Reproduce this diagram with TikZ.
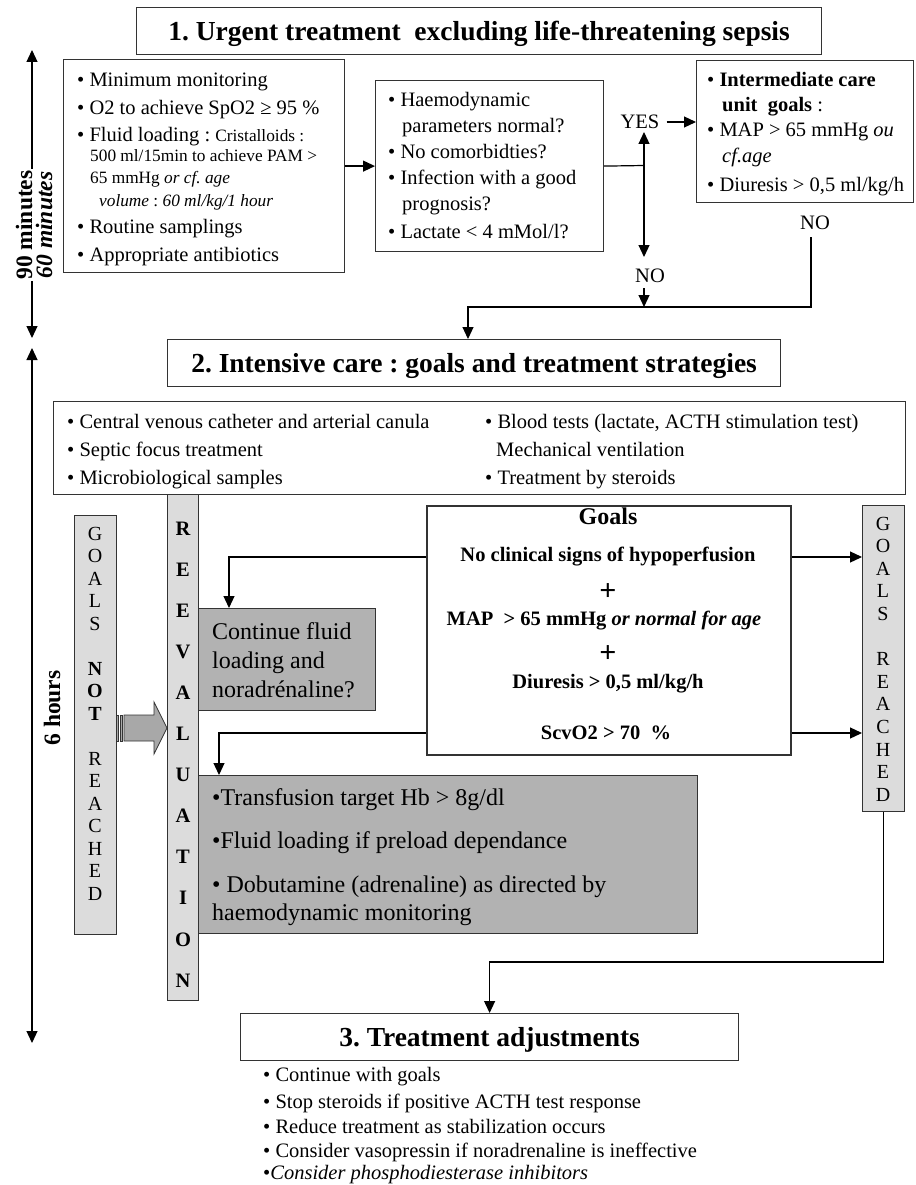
\documentclass[tikz,border=0pt]{standalone}
\usepackage{fontspec}
\setmainfont{Liberation Serif}
\usetikzlibrary{arrows.meta}
\definecolor{lgrey}{HTML}{DCDCDC}
\definecolor{mgrey}{HTML}{B2B2B2}
\definecolor{agrey}{HTML}{A8A8A8}
\definecolor{edge}{HTML}{333333}
\newcommand\fN{\fontsize{20.5}{26}\selectfont}
\newcommand\fS{\fontsize{17.3}{20}\selectfont}
\newcommand\fB{\fontsize{24}{29}\selectfont}
\newcommand\fT{\fontsize{27.5}{32}\selectfont\bfseries}
\frenchspacing
\begin{document}
\frenchspacing
\begin{tikzpicture}[x=1pt,y=-1pt,
  box/.style={draw=edge, line width=1.2pt, inner sep=0pt, anchor=north west},
  gbox/.style={box, fill=mgrey},
  bar/.style={box, fill=lgrey},
  title/.style={box, font=\fT, text height=18.7pt, text depth=0pt},
  txt/.style={inner sep=0pt, anchor=base west, font=\fN},
  stxt/.style={txt, font=\fS},
  btxt/.style={txt, font=\fB},
  ctr/.style={inner sep=0pt, anchor=base, font=\fN\bfseries},
  lab/.style={inner sep=0pt, font=\fN},
  arr/.style={-{Triangle[width=11pt,length=12pt]}, line width=1.2pt},
  con/.style={line width=1.2pt},
  darr/.style={{Triangle[width=11pt,length=12pt]}-{Triangle[width=11pt,length=12pt]}, line width=1.2pt},
  ]
\fill[white] (0,0) rectangle (915,1185);
\useasboundingbox (0,0) rectangle (915,1185);

% ---------- time axis ----------
\coordinate (ta) at (32,50);
\coordinate (tb) at (32,338);
\coordinate (tc) at (32,348);
\coordinate (td) at (32,1043);
\draw[darr] (ta) -- (tb);
\draw[darr] (tc) -- (td);
\node[rotate=90, fill=white, inner sep=1.5pt, font=\fontsize{23.5}{28}\selectfont\bfseries] (t90) at (24,225) {90 minutes};
\node[rotate=90, fill=white, inner sep=1.5pt, font=\fontsize{23.5}{28}\selectfont\bfseries\itshape] (t60) at (44,225) {60 minutes};
\node[rotate=90, inner sep=0pt, font=\fontsize{23.5}{28}\selectfont\bfseries] (t6h) at (52,708) {6 hours};

% ---------- part 1 ----------
\node[title, minimum width=685pt, minimum height=47pt] (t1) at (136,7) {1. Urgent treatment\ \ excluding life-threatening sepsis};

\node[box, minimum width=281pt, minimum height=213pt] (A) at (63,59) {};
\node[txt] (a1) at (77,87) {• Minimum monitoring};
\node[txt] (a2) at (77,115) {• O2 to achieve SpO2 ≥ 95 \%};
\node[txt] (a3) at (77,142) {• Fluid loading : {\fS Cristalloids :}};
\node[stxt] (a4) at (90,162) {500 ml/15min to achieve PAM >};
\node[stxt] (a5) at (90,184) {65 mmHg \textit{or cf. age}};
\node[stxt] (a6) at (99,206) {\textit{volume} : \textit{60 ml/kg/1 hour}};
\node[txt] (a7) at (77,233) {• Routine samplings};
\node[txt] (a8) at (77,261) {• Appropriate antibiotics};

\node[box, minimum width=228pt, minimum height=171pt] (B) at (375,80) {};
\node[txt] (b1) at (388,107) {• Haemodynamic};
\node[txt] (b2) at (402,133) {parameters normal?};
\node[txt] (b3) at (388,159) {• No comorbidties?};
\node[txt] (b4) at (388,185) {• Infection with a good};
\node[txt] (b5) at (402,211) {prognosis?};
\node[txt] (b6) at (388,238) {• Lactate < 4 mMol/l?};

\node[box, minimum width=217pt, minimum height=142pt] (C) at (696,60) {};
\node[txt] (c1) at (707,87) {• \textbf{Intermediate care}};
\node[txt] (c2) at (722,112) {\textbf{unit\ \ goals} :};
\node[txt] (c3) at (707,137) {• MAP > 65 mmHg \textit{ou}};
\node[txt] (c4) at (722,163) {\textit{cf.age}};
\node[txt] (c5) at (707,191) {• Diuresis > 0,5 ml/kg/h};

\draw[arr] (A.east) -- (B.west);
\coordinate (j) at (644,165.5);
\coordinate (yt) at (644,132);
\coordinate (nt) at (644,257);
\draw[con] (B.east) -- (j);
\draw[arr] (j) -- (yt);
\draw[arr] (j) -- (nt);
\node[lab] (yes) at (640,122) {YES};
\draw[arr] ([xshift=7pt]yes.east) -- (yes.east -| C.west);
\node[lab] (no1) at (650,276) {NO};
\node[lab] (no2) at (815,223) {NO};
\coordinate (n1) at (644,288);
\coordinate (n2) at (644,307);
\draw[arr] (n1) -- (n2);
\coordinate (k1) at (811,237);
\coordinate (k2) at (811,307);
\coordinate (k3) at (468,307);

% ---------- part 2 ----------
\node[title, minimum width=613pt, minimum height=47pt] (t2) at (167,339) {2. Intensive care : goals and treatment strategies};
\draw[arr] (k1) -- (k2) -- (k3) -- (k3 |- t2.north);

\node[box, minimum width=852pt, minimum height=93pt] (L) at (53,401) {};
\node[txt] (l1) at (67,428) {• Central venous catheter and arterial canula};
\node[txt] (l2) at (67,456) {• Septic focus treatment};
\node[txt] (l3) at (67,484) {• Microbiological samples};
\node[txt] (r1) at (485,428) {• Blood tests (lactate, ACTH stimulation test)};
\node[txt] (r2) at (496,456) {Mechanical ventilation};
\node[txt] (r3) at (485,484) {• Treatment by steroids};

% bars
\node[bar, minimum width=31pt, minimum height=506pt] (reev) at (167,494) {};
\foreach \l [count=\i from 0] in {R,E,E,V,A,L,U,A,T,I,O,N}
  \node[inner sep=0pt, anchor=base, font=\fontsize{20.5}{24}\selectfont\bfseries] (rv\i) at (183,535+41.1*\i) {\l};

\node[bar, minimum width=42pt, minimum height=419pt] (gnr) at (74,515) {};
\foreach \i/\l in {0/G,1/O,2/A,3/L,4/S,6/\textbf{N},7/\textbf{O},8/\textbf{T},10/R,11/E,12/A,13/C,14/H,15/E,16/D}
  \node[inner sep=0pt, anchor=base, font=\fontsize{20}{24}\selectfont] (gn\i) at (95,540+22.5*\i) {\l};

\node[bar, minimum width=42pt, minimum height=306pt] (gr) at (862,505) {};
\foreach \i/\l in {0/G,1/O,2/A,3/L,4/S,6/R,7/E,8/A,9/C,10/H,11/E,12/D}
  \node[inner sep=0pt, anchor=base, font=\fontsize{20}{24}\selectfont] (gg\i) at (883,530+22.6*\i) {\l};

% striped block arrow
\filldraw[fill=agrey, draw=edge, line width=0.8pt] (116,715) rectangle (118.5,741);
\filldraw[fill=agrey, draw=edge, line width=0.8pt] (120,715) rectangle (122.5,741);
\filldraw[fill=agrey, draw=edge, line width=0.8pt] (124,715) -- (154,715) -- (154,702) -- (167,728) -- (154,754) -- (154,741) -- (124,741) -- cycle;

% goals
\node[box, line width=2.2pt, minimum width=364pt, minimum height=249pt] (goals) at (426,505) {};
\node[ctr, font=\fontsize{24}{28}\selectfont\bfseries] (go1) at (608,524) {Goals};
\node[ctr] (go2) at (608,561) {No clinical signs of hypoperfusion};
\node[inner sep=0pt, font=\fontsize{30}{30}\selectfont\bfseries] (go3) at (608,592.5) {+};
\node[ctr] (go4) at (604,625) {MAP\ \ > 65 mmHg \textit{or normal for age}};
\node[inner sep=0pt, font=\fontsize{30}{30}\selectfont\bfseries] (go5) at (608,654.5) {+};
\node[ctr] (go6) at (608,688) {Diuresis > 0,5 ml/kg/h};
\node[ctr] (go7) at (606,739) {ScvO2 > 70\ \ \%};

% grey boxes
\node[gbox, minimum width=177pt, minimum height=102pt] (cont) at (198,608) {};
\node[btxt] (co1) at (212,639) {Continue fluid};
\node[btxt] (co2) at (212,668) {loading and};
\node[btxt] (co3) at (212,697) {noradrénaline?};

\node[gbox, minimum width=499pt, minimum height=158pt] (trans) at (198,775) {};
\node[btxt] (tr1) at (212,805) {•Transfusion target Hb > 8g/dl};
\node[btxt] (tr2) at (212,848) {•Fluid loading if preload dependance};
\node[btxt] (tr3) at (212,892) {• Dobutamine (adrenaline) as directed by};
\node[btxt] (tr4) at (212,920) {haemodynamic monitoring};

\draw[arr] (goals.west |- 0,557) -| ([xshift=31pt]cont.north west);
\draw[arr] (goals.west |- 0,733) -| ([xshift=21pt]trans.north west);
\draw[arr] (goals.east |- 0,557) -- (gr.west |- 0,557);
\draw[arr] (goals.east |- 0,733) -- (gr.west |- 0,733);

% ---------- part 3 ----------
\node[title, minimum width=498pt, minimum height=47pt] (t3) at (240,1013) {3. Treatment adjustments};
\draw[arr] (gr.south) -- (gr.south |- 0,962) -| (t3.north);

\node[txt] (m1) at (263,1081) {• Continue with goals};
\node[txt] (m2) at (263,1108) {• Stop steroids if positive ACTH test response};
\node[txt] (m3) at (263,1133) {• Reduce treatment as stabilization occurs};
\node[txt] (m4) at (263,1157) {• Consider vasopressin if noradrenaline is ineffective};
\node[txt] (m5) at (263,1179) {•\textit{Consider phosphodiesterase inhibitors}};
\end{tikzpicture}
\end{document}
